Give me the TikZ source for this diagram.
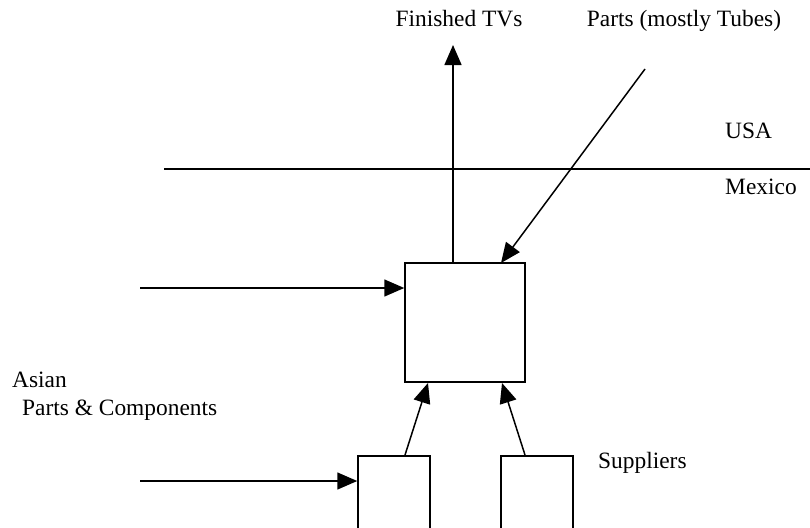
\documentclass[tikz,border=0pt]{standalone}
\usepackage{fontspec}
\setmainfont{Liberation Serif}
\usetikzlibrary{arrows.meta}

\tikzset{
  box/.style={draw, line width=1.5pt, inner sep=0pt},
  flow/.style={line width=1.5pt, -{Triangle[length=20pt,width=17pt]}},
  lbl/.style={inner sep=0pt, font=\fontsize{23.4}{28}\selectfont}
}

\begin{document}
\begin{tikzpicture}[x=1pt, y=-1pt]

\useasboundingbox (0,0) rectangle (810,527);
\clip (0,0) rectangle (810,527);

% border
\draw [line width=1.5pt] (164,169) coordinate (w) -- (810,169) coordinate (e);

% plant and suppliers
\node [box, minimum width=120pt, minimum height=119pt] (plant) at (465,322.5) {};
\node [box, anchor=north, minimum width=72pt, minimum height=120pt] (supA) at (394,455) {};
\node [box, anchor=north, minimum width=72pt, minimum height=120pt] (supB) at (537,455) {};

\coordinate (top) at (453,45);
\coordinate (tubes) at (645,69);
\coordinate (asia1) at (140,288);
\coordinate (asia2) at (140,481);

\draw [flow] (plant.north -| top) -- (top);
\draw [flow] (tubes) -- (501,263);
\draw [flow] (asia1) -- (asia1 -| plant.west);
\draw [flow] (asia2) -- (asia2 -| supA.west);
\draw [flow] (405,455) -- (428,383);
\draw [flow] (525,455) -- (502,383);

\node [lbl, anchor=base] (tv) at (459,27) {Finished TVs};
\node [lbl, anchor=base] (parts) at (684,27) {Parts (mostly Tubes)};
\node [lbl, anchor=base west] (usa) at (725,138) {USA};
\node [lbl, anchor=base west] (mex) at (725,194) {Mexico};
\node [lbl, anchor=base west] (asian) at (12,387) {Asian};
\node [lbl, anchor=base west] (comp) at (22,415) {Parts \& Components};
\node [lbl, anchor=base west] (sup) at (598,468) {Suppliers};

\end{tikzpicture}
\end{document}
